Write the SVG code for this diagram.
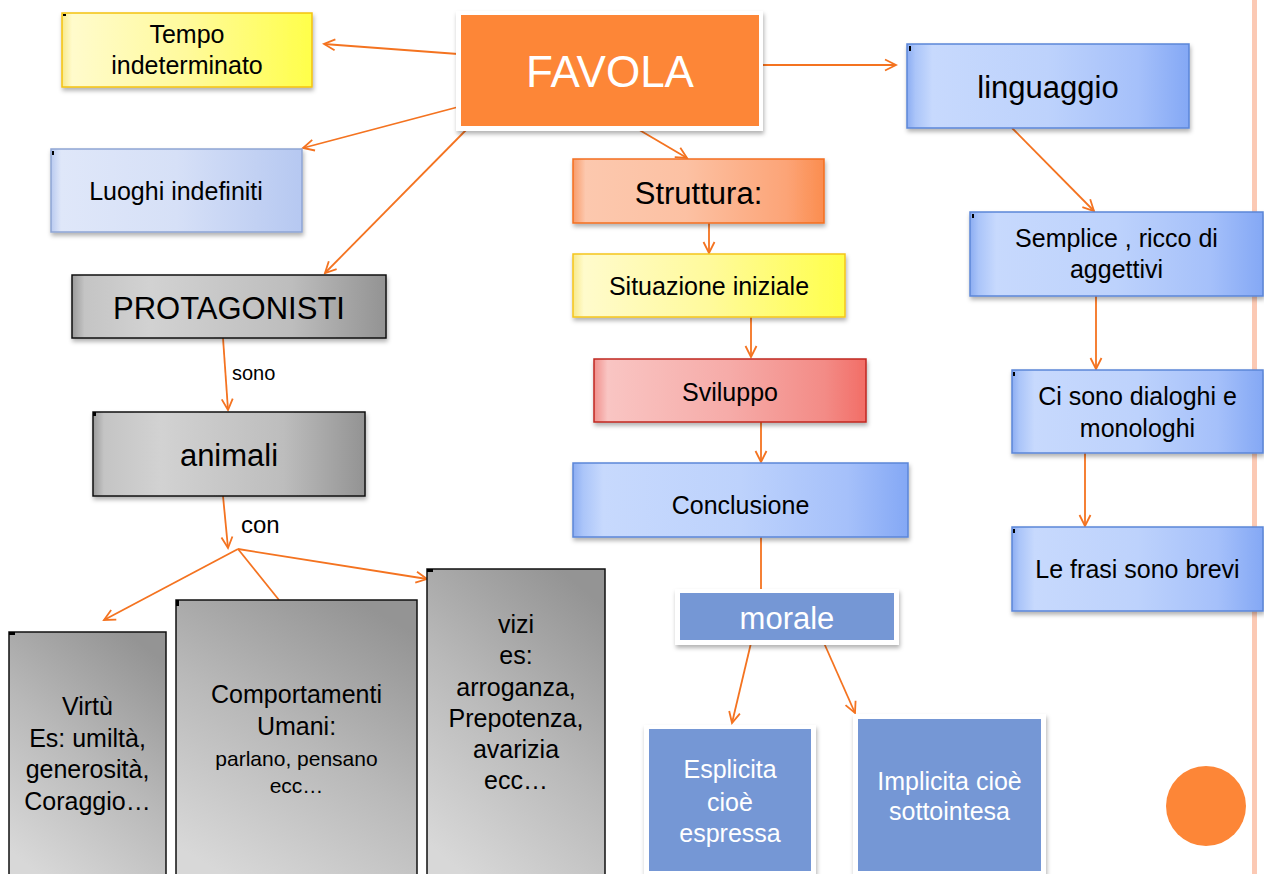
<svg xmlns="http://www.w3.org/2000/svg" width="1264" height="874" viewBox="0 0 1264 874">
<defs>
<style>
text{font-family:"Liberation Sans",Arial,sans-serif;fill:#000;text-anchor:middle}
.w{fill:#fff}
.c{stroke:#F47320;stroke-width:1.8;fill:none}
.ca{stroke:#F47320;stroke-width:1.8;fill:none;marker-end:url(#ah)}
.sh{filter:url(#ds)}
.mk{fill:#000}
</style>
<filter id="ds" x="-10%" y="-10%" width="125%" height="130%">
<feDropShadow dx="1" dy="3" stdDeviation="2" flood-color="#000" flood-opacity="0.3"/>
</filter>
<marker id="ah" viewBox="0 0 14 14" markerWidth="14" markerHeight="14" refX="12" refY="7" orient="auto" markerUnits="userSpaceOnUse">
<path d="M1,1.5 L12,7 L1,12.5" fill="none" stroke="#F47320" stroke-width="1.8"/>
</marker>
<linearGradient id="gBlue" x1="0" y1="0" x2="1" y2="0">
<stop offset="0" stop-color="#8cadf2"/><stop offset="0.03" stop-color="#abc5f9"/><stop offset="0.09" stop-color="#c7d9fd"/><stop offset="0.5" stop-color="#bdd2fc"/><stop offset="0.82" stop-color="#a5c0fa"/><stop offset="1" stop-color="#84a8f5"/>
</linearGradient>
<linearGradient id="gBlueP" x1="0" y1="0" x2="1" y2="0">
<stop offset="0" stop-color="#b9caf0"/><stop offset="0.04" stop-color="#dfe7f9"/><stop offset="0.5" stop-color="#d6e0f7"/><stop offset="1" stop-color="#b6c8f1"/>
</linearGradient>
<linearGradient id="gYel" x1="0" y1="0" x2="1" y2="0">
<stop offset="0" stop-color="#f8e98a"/><stop offset="0.04" stop-color="#fffbcc"/><stop offset="0.5" stop-color="#fffa9c"/><stop offset="1" stop-color="#ffff4a"/>
</linearGradient>
<linearGradient id="gOr" x1="0" y1="0" x2="1" y2="0">
<stop offset="0" stop-color="#f89b6a"/><stop offset="0.05" stop-color="#fcc8ae"/><stop offset="0.45" stop-color="#fcc1a3"/><stop offset="0.85" stop-color="#fca477"/><stop offset="1" stop-color="#fb8d4f"/>
</linearGradient>
<linearGradient id="gRed" x1="0" y1="0" x2="1" y2="0">
<stop offset="0" stop-color="#f08f8b"/><stop offset="0.05" stop-color="#f9c5c3"/><stop offset="0.5" stop-color="#f6aba8"/><stop offset="0.85" stop-color="#f38b86"/><stop offset="1" stop-color="#f26d66"/>
</linearGradient>
<linearGradient id="gGray" x1="0" y1="0" x2="1" y2="0">
<stop offset="0" stop-color="#9a9a9a"/><stop offset="0.04" stop-color="#c4c4c4"/><stop offset="0.25" stop-color="#d2d2d2"/><stop offset="0.7" stop-color="#bdbdbd"/><stop offset="1" stop-color="#939393"/>
</linearGradient>
<linearGradient id="gGrayT" x1="0.75" y1="0" x2="0.25" y2="1">
<stop offset="0" stop-color="#949494"/><stop offset="0.5" stop-color="#b9b9b9"/><stop offset="1" stop-color="#d8d8d8"/>
</linearGradient>
</defs>

<rect x="1252" y="0" width="5" height="874" fill="#fbc9b4"/>
<circle cx="1206" cy="806" r="40" fill="#FD8637"/>

<g id="connectors">
<line class="ca" x1="458" y1="54" x2="324" y2="44"/>
<line class="ca" x1="458" y1="107" x2="303" y2="148"/>
<line class="ca" x1="468" y1="128" x2="325" y2="273"/>
<line class="ca" x1="762" y1="65" x2="896" y2="65"/>
<line class="ca" x1="636" y1="128" x2="687" y2="158"/>
<line class="ca" x1="709" y1="223" x2="709" y2="253"/>
<line class="ca" x1="751" y1="317" x2="751" y2="357"/>
<line class="ca" x1="761" y1="422" x2="761" y2="462"/>
<line class="c" x1="761" y1="537" x2="761" y2="590"/>
<line class="ca" x1="751" y1="643" x2="732" y2="723"/>
<line class="ca" x1="824" y1="643" x2="855" y2="713"/>
<line class="ca" x1="1012" y1="128" x2="1094" y2="211"/>
<line class="ca" x1="1096" y1="296" x2="1096" y2="369"/>
<line class="ca" x1="1085" y1="453" x2="1085" y2="526"/>
<line class="ca" x1="223" y1="338" x2="228" y2="410"/>
<line class="ca" x1="223" y1="496" x2="228" y2="548"/>
<line class="ca" x1="238" y1="549" x2="104" y2="620"/>
<line class="c" x1="238" y1="549" x2="279" y2="600"/>
<line class="ca" x1="238" y1="549" x2="427" y2="579"/>
<text x="232" y="380" font-size="20" style="text-anchor:start">sono</text>
<text x="241" y="533" font-size="24" style="text-anchor:start">con</text>
</g>

<g id="favola">
<rect class="sh" x="456" y="11" width="307" height="120" fill="#fff"/>
<rect x="461" y="15" width="298" height="111" fill="#FD8637"/>
<text class="w" x="610" y="87" font-size="44">FAVOLA</text>
</g>

<g id="tempo">
<rect class="sh" x="62" y="13" width="250" height="74" fill="url(#gYel)" stroke="#f4c20f" stroke-width="1.5"/>
<rect class="mk" x="63" y="14" width="3" height="2"/>
<text x="187" y="43" font-size="25">Tempo</text>
<text x="187" y="74" font-size="25">indeterminato</text>
</g>

<g id="luoghi">
<rect class="sh" x="51" y="149" width="251" height="83" fill="url(#gBlueP)" stroke="#8ea5d4" stroke-width="1.5"/>
<rect class="mk" x="52" y="151" width="2" height="4"/>
<text x="176" y="200" font-size="25">Luoghi indefiniti</text>
</g>

<g id="protagonisti">
<rect class="sh" x="72" y="275" width="314" height="63" fill="url(#gGray)" stroke="#111" stroke-width="1.5"/>
<text x="229" y="319" font-size="31">PROTAGONISTI</text>
</g>

<g id="animali">
<rect class="sh" x="93" y="412" width="272" height="84" fill="url(#gGray)" stroke="#111" stroke-width="1.5"/>
<rect class="mk" x="93" y="412" width="3" height="4"/>
<text x="229" y="466" font-size="31">animali</text>
</g>

<g id="virtu">
<rect x="9" y="632" width="157" height="250" fill="url(#gGrayT)" stroke="#111" stroke-width="1.5"/>
<rect class="mk" x="9" y="632" width="6" height="3"/>
<text x="87.5" y="715" font-size="25">Virtù</text>
<text x="87.5" y="747" font-size="25">Es: umiltà,</text>
<text x="87.5" y="778" font-size="25">generosità,</text>
<text x="87.5" y="810" font-size="25">Coraggio…</text>
</g>

<g id="comportamenti">
<rect x="176" y="600" width="241" height="282" fill="url(#gGrayT)" stroke="#111" stroke-width="1.5"/>
<rect class="mk" x="176" y="600" width="3" height="6"/>
<text x="296.5" y="703" font-size="25">Comportamenti</text>
<text x="296.5" y="735" font-size="25">Umani:</text>
<text x="296.5" y="766" font-size="21">parlano, pensano</text>
<text x="296.5" y="793" font-size="21">ecc…</text>
</g>

<g id="vizi">
<rect x="427" y="569" width="178" height="313" fill="url(#gGrayT)" stroke="#111" stroke-width="1.5"/>
<rect class="mk" x="427" y="569" width="6" height="3"/>
<text x="516" y="633" font-size="25">vizi</text>
<text x="516" y="664" font-size="25">es:</text>
<text x="516" y="696" font-size="25">arroganza,</text>
<text x="516" y="727" font-size="25">Prepotenza,</text>
<text x="516" y="758" font-size="25">avarizia</text>
<text x="516" y="789" font-size="25">ecc…</text>
</g>

<g id="struttura">
<rect class="sh" x="573" y="159" width="251" height="64" fill="url(#gOr)" stroke="#f36f1f" stroke-width="1.5"/>
<text x="698.5" y="204" font-size="31">Struttura:</text>
</g>

<g id="situazione">
<rect class="sh" x="573" y="254" width="272" height="63" fill="url(#gYel)" stroke="#f5c51c" stroke-width="1.5"/>
<text x="709" y="295" font-size="25">Situazione iniziale</text>
</g>

<g id="sviluppo">
<rect class="sh" x="594" y="359" width="272" height="63" fill="url(#gRed)" stroke="#c0281f" stroke-width="1.5"/>
<text x="730" y="401" font-size="25">Sviluppo</text>
</g>

<g id="conclusione">
<rect class="sh" x="573" y="463" width="335" height="74" fill="url(#gBlue)" stroke="#5b86d8" stroke-width="1.5"/>
<text x="740.5" y="514" font-size="25">Conclusione</text>
</g>

<g id="morale">
<rect class="sh" x="675" y="589" width="224" height="56" fill="#fff"/>
<rect x="680" y="593" width="214" height="47" fill="#7597D5"/>
<text class="w" x="787" y="629" font-size="31">morale</text>
</g>

<g id="esplicita">
<rect class="sh" x="644" y="725" width="172" height="160" fill="#fff"/>
<rect x="649" y="729" width="162" height="142" fill="#7597D5"/>
<text class="w" x="730" y="778" font-size="25">Esplicita</text>
<text class="w" x="730" y="811" font-size="25">cioè</text>
<text class="w" x="730" y="842" font-size="25">espressa</text>
</g>

<g id="implicita">
<rect class="sh" x="853" y="714" width="193" height="170" fill="#fff"/>
<rect x="858" y="719" width="183" height="152" fill="#7597D5"/>
<text class="w" x="949.5" y="790" font-size="25">Implicita cioè</text>
<text class="w" x="949.5" y="820" font-size="25">sottointesa</text>
</g>

<g id="linguaggio">
<rect class="sh" x="907" y="44" width="282" height="84" fill="url(#gBlue)" stroke="#5b86d8" stroke-width="1.5"/>
<rect class="mk" x="909" y="46" width="2" height="5"/>
<text x="1048" y="98" font-size="31">linguaggio</text>
</g>

<g id="semplice">
<rect class="sh" x="970" y="212" width="293" height="84" fill="url(#gBlue)" stroke="#5b86d8" stroke-width="1.5"/>
<rect class="mk" x="972" y="214" width="2" height="4"/>
<text x="1116.5" y="247" font-size="25">Semplice , ricco di</text>
<text x="1116.5" y="278" font-size="25">aggettivi</text>
</g>

<g id="dialoghi">
<rect class="sh" x="1012" y="370" width="251" height="83" fill="url(#gBlue)" stroke="#5b86d8" stroke-width="1.5"/>
<rect class="mk" x="1013" y="372" width="2" height="4"/>
<text x="1137.5" y="405" font-size="25">Ci sono dialoghi e</text>
<text x="1137.5" y="437" font-size="25">monologhi</text>
</g>

<g id="frasi">
<rect class="sh" x="1012" y="527" width="251" height="84" fill="url(#gBlue)" stroke="#5b86d8" stroke-width="1.5"/>
<rect class="mk" x="1013" y="529" width="2" height="4"/>
<text x="1137.5" y="578" font-size="25">Le frasi sono brevi</text>
</g>
</svg>
